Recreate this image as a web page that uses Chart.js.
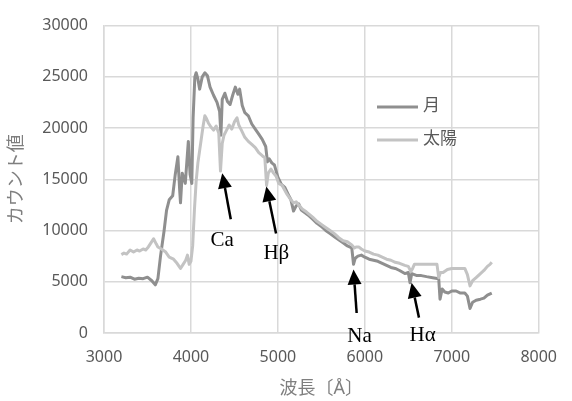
<!DOCTYPE html>
<html>
<head>
<meta charset="utf-8">
<script src="https://cdn.jsdelivr.net/npm/chart.js@4/dist/chart.umd.min.js"></script>
<style>
  html, body { margin: 0; padding: 0; background: #fff; }
  #wrap { width: 572px; height: 401px; }
</style>
</head>
<body>
<div id="wrap"><canvas id="chartSpectrum" width="572" height="401"></canvas></div>
<script>
// ---- data ----
const seriesNames = ["月", "太陽"];

const moonWl = [3200, 3250, 3300, 3350, 3400, 3450, 3500, 3550, 3590, 3620, 3650, 3690, 3720, 3750, 3790, 3820, 3850, 3870, 3880, 3900,
  3935, 3970, 3990, 4010, 4025, 4045, 4060, 4080, 4100, 4130, 4160, 4190, 4220, 4260, 4300, 4330, 4345, 4360, 4390, 4420,
  4450, 4480, 4510, 4540, 4560, 4590, 4620, 4660, 4700, 4740, 4780, 4820, 4860, 4880, 4900, 4930, 4960, 5000, 5040, 5080,
  5120, 5150, 5180, 5210, 5240, 5270, 5300, 5350, 5400, 5450, 5500, 5550, 5600, 5650, 5700, 5750, 5800, 5850, 5870, 5890,
  5920, 5960, 6000, 6050, 6100, 6150, 6200, 6250, 6300, 6350, 6400, 6460, 6500, 6520, 6540, 6600, 6650, 6710, 6780, 6850,
  6865, 6890, 6920, 6960, 7000, 7050, 7100, 7150, 7180, 7210, 7240, 7280, 7330, 7370, 7410, 7460];
const moonCount = [5500, 5400, 5450, 5250, 5350, 5300, 5450, 5100, 4700, 5300, 7500, 9900, 12000, 13000, 13400, 15500, 17200, 14000, 12700, 15600,
  14600, 18700, 15500, 14600, 21000, 25000, 25400, 24800, 23800, 25000, 25400, 25100, 24000, 23200, 22500, 21600, 19300, 22800, 23400, 22600,
  22300, 23200, 24000, 23300, 23800, 22200, 21500, 21200, 20400, 19900, 19400, 18900, 18200, 16700, 17000, 16600, 16400, 15200, 14500, 14200,
  13500, 13000, 11900, 12400, 12600, 12000, 11800, 11500, 11100, 10700, 10400, 10000, 9700, 9400, 9100, 8800, 8500, 8300, 6700, 7300,
  7500, 7600, 7400, 7200, 7100, 7000, 6800, 6600, 6400, 6300, 6100, 5800, 5900, 4900, 5800, 5600, 5600, 5500, 5400, 5300,
  3300, 4300, 4000, 3900, 4100, 4100, 3900, 3900, 3600, 2400, 3000, 3200, 3300, 3400, 3700, 3900];

const sunWl = [3200, 3230, 3260, 3300, 3340, 3380, 3410, 3450, 3480, 3510, 3540, 3570, 3600, 3620, 3660, 3710, 3750, 3800, 3840, 3880,
  3910, 3940, 3960, 3980, 4000, 4020, 4040, 4060, 4080, 4100, 4120, 4140, 4160, 4180, 4200, 4230, 4260, 4290, 4320, 4340,
  4360, 4380, 4410, 4440, 4470, 4500, 4530, 4550, 4580, 4620, 4660, 4700, 4740, 4780, 4820, 4850, 4870, 4890, 4920, 4950,
  4980, 5010, 5050, 5100, 5150, 5180, 5210, 5240, 5280, 5330, 5400, 5450, 5500, 5550, 5600, 5650, 5700, 5750, 5800, 5850,
  5880, 5900, 5930, 5960, 6000, 6050, 6100, 6150, 6200, 6250, 6300, 6350, 6400, 6460, 6500, 6530, 6550, 6570, 6650, 6750,
  6830, 6850, 6870, 6900, 6950, 7000, 7080, 7150, 7180, 7210, 7240, 7280, 7330, 7370, 7410, 7440, 7460];
const sunCount = [7650, 7800, 7700, 8100, 7900, 8100, 8000, 8200, 8100, 8400, 8800, 9200, 8700, 8400, 8200, 7900, 7400, 7200, 6800, 6300,
  6700, 7100, 7600, 6700, 7000, 8500, 12000, 14800, 16600, 17800, 19000, 20200, 21200, 20900, 20500, 20100, 19800, 20200, 19500, 15800,
  18500, 19300, 19800, 20300, 19900, 20600, 21000, 20300, 19800, 19100, 18700, 18400, 18100, 17600, 17300, 17100, 14400, 15600, 16000, 15600,
  15300, 14600, 14400, 13600, 13000, 12700, 12800, 12500, 12100, 11800, 11300, 10900, 10600, 10300, 10000, 9700, 9300, 9000, 8900, 8600,
  8300, 8400, 8400, 8200, 8000, 7900, 7700, 7600, 7400, 7200, 7100, 6900, 6800, 6600, 6500, 6000, 6300, 6700, 6700, 6700,
  6700, 5400, 5900, 5900, 6200, 6300, 6300, 6300, 5700, 4600, 5100, 5400, 5800, 6100, 6500, 6700, 6900];

const xTicks = [3000, 4000, 5000, 6000, 7000, 8000];
const yTicks = [0, 5000, 10000, 15000, 20000, 25000, 30000];

// arrows pointing at absorption lines (in data units)
const notes = [
  { text: "Ca", tip: [4360, 15600], tail: [4458, 11100], at: [4359, 9000] },
  { text: "Hβ", tip: [4867, 14300], tail: [4979, 9700], at: [4982, 7750] },
  { text: "Na", tip: [5870, 6200], tail: [5906, 1950], at: [5940, -380] },
  { text: "Hα", tip: [6538, 4900], tail: [6623, 1500], at: [6664, -290] },
];

const toPoints = (xs, ys) => xs.map((x, i) => ({ x: x, y: ys[i] }));

const colors = ["#8f8f8f", "#c3c3c3"];
const gridColor = "#d9d9d9";
const textColor = "#595959";
const sansFont = "'Noto Sans', 'Noto Sans CJK JP', sans-serif";

const notesPlugin = {
  id: "notes",
  afterDraw(chart) {
    const { ctx, scales } = chart;
    const sx = scales.x, sy = scales.y;
    ctx.save();

    // legend inside the plot
    chart.data.datasets.forEach((ds, i) => {
      const y = 107 + i * 33;
      ctx.strokeStyle = ds.borderColor;
      ctx.lineWidth = 3;
      ctx.beginPath();
      ctx.moveTo(377, y);
      ctx.lineTo(418, y);
      ctx.stroke();
      ctx.fillStyle = textColor;
      ctx.font = "17px " + sansFont;
      ctx.textAlign = "left";
      ctx.textBaseline = "middle";
      ctx.fillText(ds.label, 423, y - 1);
    });

    // arrows + labels
    notes.forEach((n) => {
      const tx = sx.getPixelForValue(n.tip[0]), ty = sy.getPixelForValue(n.tip[1]);
      const bx = sx.getPixelForValue(n.tail[0]), by = sy.getPixelForValue(n.tail[1]);
      const ang = Math.atan2(ty - by, tx - bx);
      const headLen = 15, headHalf = 7;
      const hx = tx - headLen * Math.cos(ang), hy = ty - headLen * Math.sin(ang);
      ctx.strokeStyle = "#000";
      ctx.fillStyle = "#000";
      ctx.lineWidth = 2.5;
      ctx.beginPath();
      ctx.moveTo(bx, by);
      ctx.lineTo(hx, hy);
      ctx.stroke();
      ctx.beginPath();
      ctx.moveTo(tx, ty);
      ctx.lineTo(hx + headHalf * Math.sin(ang), hy - headHalf * Math.cos(ang));
      ctx.lineTo(hx - headHalf * Math.sin(ang), hy + headHalf * Math.cos(ang));
      ctx.closePath();
      ctx.fill();

      ctx.font = "21px 'Liberation Serif', 'DejaVu Serif', serif";
      ctx.textAlign = "center";
      ctx.textBaseline = "middle";
      ctx.fillText(n.text, sx.getPixelForValue(n.at[0]), sy.getPixelForValue(n.at[1]));
    });
    ctx.restore();
  },
};

new Chart(document.getElementById("chartSpectrum").getContext("2d"), {
  type: "line",
  data: {
    datasets: [
      {
        label: seriesNames[0],
        data: toPoints(moonWl, moonCount),
        borderColor: colors[0],
        borderWidth: 3,
        pointRadius: 0,
        tension: 0,
        borderJoinStyle: "round",
        order: 2,
      },
      {
        label: seriesNames[1],
        data: toPoints(sunWl, sunCount),
        borderColor: colors[1],
        borderWidth: 3,
        pointRadius: 0,
        tension: 0,
        borderJoinStyle: "round",
        order: 1,
      },
    ],
  },
  options: {
    responsive: false,
    animation: false,
    devicePixelRatio: 1,
    layout: { padding: { top: 19, right: 19, left: 0, bottom: 0 } },
    plugins: { legend: { display: false }, tooltip: { enabled: false } },
    scales: {
      x: {
        type: "linear",
        min: xTicks[0],
        max: xTicks[xTicks.length - 1],
        afterBuildTicks: (scale) => { scale.ticks = xTicks.map((v) => ({ value: v })); },
        afterFit: (scale) => { scale.height = 68; },
        grid: { color: gridColor, lineWidth: 1.5, drawTicks: false },
        border: { color: gridColor, width: 1.5 },
        ticks: {
          color: textColor,
          padding: 15,
          font: { family: sansFont, size: 16 },
          maxRotation: 0,
          callback: (v) => String(v),
        },
        title: {
          display: true,
          text: "波長〔Å〕",
          color: "#7f7f7f",
          font: { family: sansFont, size: 18 },
          padding: { top: 0, bottom: 1 },
        },
      },
      y: {
        min: yTicks[0],
        max: yTicks[yTicks.length - 1],
        afterBuildTicks: (scale) => { scale.ticks = yTicks.map((v) => ({ value: v })); },
        afterFit: (scale) => { scale.width = 104; },
        grid: { color: gridColor, lineWidth: 1.5, drawTicks: false },
        border: { color: gridColor, width: 1.5 },
        ticks: {
          color: textColor,
          padding: 16,
          font: { family: sansFont, size: 16 },
          callback: (v) => String(v),
        },
        title: {
          display: true,
          text: "カウント値",
          color: "#7f7f7f",
          font: { family: sansFont, size: 18 },
          padding: { top: 6, bottom: 0 },
        },
      },
    },
  },
  plugins: [notesPlugin],
});
</script>
</body>
</html>
